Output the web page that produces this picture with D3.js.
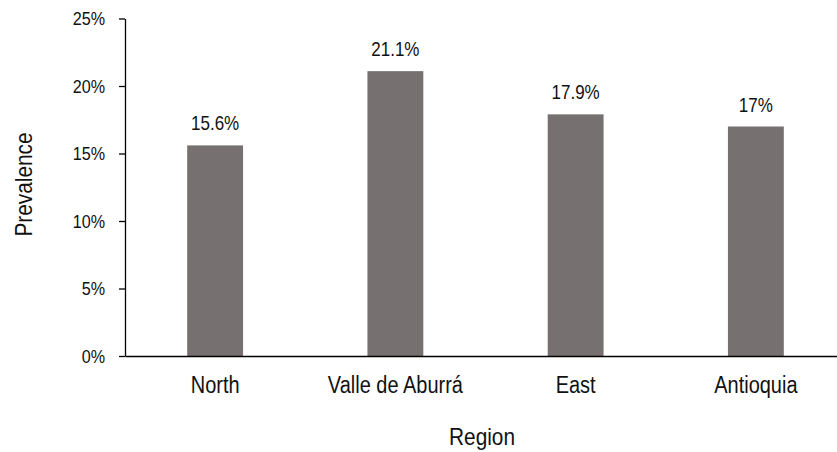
<!DOCTYPE html>
<html>
<head>
<meta charset="utf-8">
<script src="https://cdn.jsdelivr.net/npm/d3@7"></script>
<style>
  body { margin: 0; background: #fff; }
  text { font-family: "Liberation Sans", Arial, sans-serif; fill: #111; }
</style>
</head>
<body>
<svg id="chart" width="837" height="452"></svg>
<script>
const regions = ["North", "Valle de Aburrá", "East", "Antioquia"];
const prevalence = [15.6, 21.1, 17.9, 17];
const yTicks = [0, 5, 10, 15, 20, 25];

// horizontal squeeze applied to every label (narrow-looking sans)
const squeeze = 0.85;

const svg = d3.select("#chart");
const plotLeft = 125, plotRight = 846, plotTop = 18.5, plotBottom = 356;

const x = d3.scaleBand().domain(regions).range([plotLeft, plotRight]).paddingInner(0.69).paddingOuter(0.345);
const y = d3.scaleLinear().domain([0, 25]).range([plotBottom, plotTop]);

// bars
svg.selectAll("rect.bar").data(regions).join("rect")
  .attr("class", "bar")
  .attr("x", d => x(d))
  .attr("width", x.bandwidth())
  .attr("y", (d, i) => y(prevalence[i]))
  .attr("height", (d, i) => plotBottom - y(prevalence[i]))
  .attr("fill", "#767170");

// value labels
svg.selectAll("text.val").data(regions).join("text")
  .attr("class", "val")
  .attr("transform", (d, i) => `translate(${x(d) + x.bandwidth() / 2},${y(prevalence[i]) - 15}) scale(${squeeze},1)`)
  .attr("text-anchor", "middle")
  .style("font-size", "20px")
  .text((d, i) => prevalence[i] + "%");

// y axis
const yAxis = d3.axisLeft(y).tickValues(yTicks).tickFormat(d => d + "%").tickSize(6).tickSizeOuter(0);
const gy = svg.append("g").attr("transform", `translate(${plotLeft},0)`).call(yAxis);
gy.select(".domain").attr("stroke", "#000").attr("stroke-width", 1.3);
gy.selectAll(".tick line").attr("stroke", "#000").attr("stroke-width", 1.3);
gy.selectAll(".tick text")
  .style("font-size", "19px")
  .attr("x", -20 / squeeze)
  .attr("transform", `scale(${squeeze},1)`)
  .attr("fill", "#111");

// x axis
const xAxis = d3.axisBottom(x).tickSize(0).tickSizeOuter(0);
const gx = svg.append("g").attr("transform", `translate(0,${plotBottom})`).call(xAxis);
gx.select(".domain").attr("stroke", "#000").attr("stroke-width", 1.3);
gx.selectAll(".tick text")
  .style("font-size", "23.5px")
  .attr("dy", "0").attr("y", 37)
  .attr("transform", `scale(${squeeze},1)`)
  .attr("fill", "#111");

// axis titles
svg.append("text")
  .attr("transform", `translate(482,445) scale(${squeeze},1)`)
  .attr("text-anchor", "middle")
  .style("font-size", "24.5px")
  .text("Region");

svg.append("text")
  .attr("transform", `translate(32,184.5) rotate(-90) scale(${squeeze},1)`)
  .attr("text-anchor", "middle")
  .style("font-size", "24.5px")
  .text("Prevalence");
</script>
</body>
</html>
